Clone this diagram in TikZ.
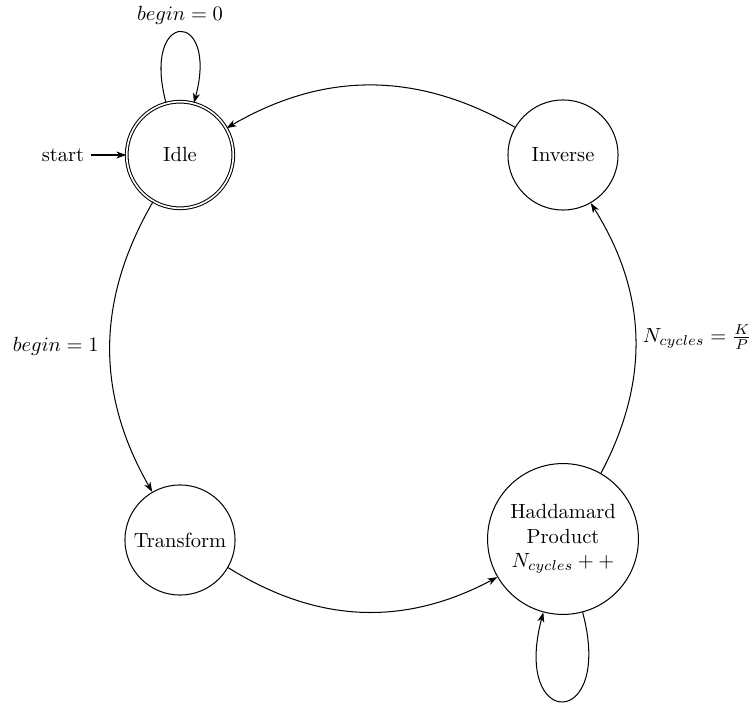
\documentclass[tikz,border=0pt]{standalone}
\usetikzlibrary{arrows.meta}
\begin{document}
\begin{tikzpicture}[x=0.4878pt,y=0.4878pt,
  >={Stealth[length=4.8pt,width=3.4pt,inset=1.4pt]},
  state/.style={circle,draw,line width=0.5pt,inner sep=3.33pt,minimum size=53.7pt},
  accepting state/.style={state,double,double distance=0.8pt,minimum size=52pt},
  trans/.style={->,line width=0.5pt},
]
\useasboundingbox (0,0) rectangle (752,-704);

% states
\node[accepting state] (idle) at (180,-155) {Idle};
\node[state] (inverse) at (563,-155) {Inverse};
\node[state] (transform) at (180,-540) {Transform};
\node[state,align=center,minimum size=73.6pt] (hadd) at (563,-539)
  {Haddamard\\Product\\$N_{cycles}++$};

% initial arrow
\node (start) at (63,-155) {start};
\draw[trans] (start) -- (idle);

% transitions
\draw[trans] (idle) to[loop above,looseness=9] node[above] {$begin=0$} (idle);
\draw[trans] (idle) to[bend right=30] node[left,xshift=-2pt] {$begin=1$} (transform);
\draw[trans] (transform) to[bend right=30] (hadd);
\draw[trans] (hadd) to[loop below] (hadd);
\draw[trans] (hadd) to[bend right=30] node[right] {$N_{cycles}=\frac{K}{P}$} (inverse);
\draw[trans] (inverse) to[bend right=30] (idle);
\end{tikzpicture}
\end{document}
